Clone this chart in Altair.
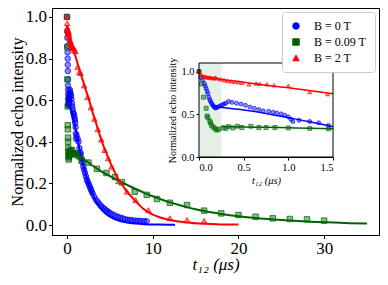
import altair as alt
import pandas as pd

SERIES = ["B = 0 T", "B = 0.09 T", "B = 2 T"]
COLORS = ["#0000ff", "#006400", "#ff0000"]
SHAPES = ["circle", "square", "triangle-up"]

# ---- measured points (t12 in us, normalized echo intensity) ----
blue_t = [0, 0.02, 0.04, 0.06, 0.07, 0.08, 0.09, 0.10, 0.11, 0.12, 0.13, 0.14, 0.15, 0.16, 0.17,
          0.18, 0.19, 0.20, 0.22, 0.24, 0.26, 0.28, 0.30, 0.33, 0.37, 0.42, 0.47, 0.52, 0.57, 0.62,
          0.67, 0.72, 0.78, 0.83, 0.87, 0.92, 0.96, 1.00, 1.03, 1.05, 1.12, 1.24, 1.34, 1.45,
          1.55, 1.6, 1.7, 1.8, 1.9, 2.0, 2.1, 2.2, 2.3, 2.4, 2.5, 2.6, 2.7, 2.8, 2.9, 3.0, 3.2,
          3.4, 3.6, 3.8, 4.0, 4.2, 4.4, 4.6, 4.8, 5.0, 5.3, 5.6, 5.9, 6.2, 6.5, 6.8, 7.1, 7.4,
          7.7, 8.0, 8.3, 8.6, 9.0, 9.3]
blue_y = [1.0, 0.93, 0.90, 0.86, 0.83, 0.80, 0.77, 0.74, 0.70, 0.67, 0.65, 0.63, 0.61, 0.60, 0.585,
          0.575, 0.575, 0.58, 0.59, 0.60, 0.61, 0.62, 0.63, 0.65, 0.64, 0.63, 0.62, 0.605, 0.585, 0.57,
          0.555, 0.54, 0.535, 0.525, 0.515, 0.505, 0.49, 0.47, 0.44, 0.415, 0.43, 0.415, 0.40, 0.37,
          0.35, 0.34, 0.32, 0.30, 0.28, 0.265, 0.25, 0.235, 0.22, 0.21, 0.20, 0.19, 0.18, 0.17, 0.16,
          0.15, 0.135, 0.12, 0.11, 0.10, 0.09, 0.083, 0.077, 0.07, 0.064, 0.058, 0.052, 0.046, 0.04,
          0.036, 0.032, 0.028, 0.025, 0.024, 0.022, 0.021, 0.02, 0.02, 0.019, 0.018]

green_t = [0, 0.03, 0.05, 0.08, 0.09, 0.10, 0.12, 0.13, 0.14, 0.16, 0.18, 0.20, 0.22, 0.27, 0.30,
           0.33, 0.38, 0.43, 0.48, 0.58, 0.67, 0.75, 0.85, 1.0, 1.24, 1.45,
           1.7, 2.5, 3.5, 4.6, 5.6, 6.4, 7.9, 9.3, 10.5, 12, 14, 16, 18, 20, 22, 24, 26, 28, 30]
green_y = [1.0, 0.855, 0.70, 0.57, 0.48, 0.46, 0.42, 0.40, 0.37, 0.35, 0.33, 0.315, 0.325, 0.34, 0.335,
           0.355, 0.34, 0.36, 0.345, 0.36, 0.345, 0.345, 0.345, 0.34, 0.335, 0.33,
           0.31, 0.30, 0.27, 0.25, 0.23, 0.205, 0.16, 0.145, 0.125, 0.107, 0.096, 0.069, 0.056, 0.048,
           0.04, 0.032, 0.029, 0.027, 0.021]

red_t = [0, 0.02, 0.04, 0.06, 0.08, 0.10, 0.12, 0.14, 0.16, 0.18, 0.20, 0.24, 0.28, 0.32, 0.36, 0.40,
         0.44, 0.48, 0.56, 0.64, 0.68, 0.76, 0.84, 1.0, 1.24, 1.44,
         1.6, 2.0, 2.4, 2.8, 3.2, 3.6, 4.0, 4.4, 4.8, 5.2, 6.0, 7.0, 8.0, 9.5, 12, 14, 16]
red_y = [1.0, 0.97, 0.95, 0.94, 0.935, 0.93, 0.93, 0.925, 0.92, 0.93, 0.92, 0.91, 0.90, 0.89, 0.885, 0.88,
         0.875, 0.87, 0.85, 0.86, 0.855, 0.85, 0.84, 0.835, 0.76, 0.735,
         0.73, 0.67, 0.615, 0.565, 0.51, 0.46, 0.41, 0.36, 0.32, 0.28, 0.21, 0.16, 0.12, 0.072, 0.033,
         0.025, 0.02]

# ---- fit curves ----
blue_fit_t = [0.2, 0.5, 0.75, 1.0, 1.25, 1.5, 1.75, 2.0, 2.5, 3.0, 3.5, 4.0, 4.5, 5.0, 6.0, 7.0, 8.0,
              9.0, 10.5, 12.6]
blue_fit_y = [0.585, 0.55, 0.51, 0.46, 0.41, 0.355, 0.31, 0.27, 0.20, 0.145, 0.105, 0.075, 0.055, 0.04,
              0.022, 0.012, 0.007, 0.004, 0.002, 0.001]
green_fit_t = [0.25, 0.5, 0.75, 1.0, 1.25, 1.5, 2.0, 3.0, 4.0, 5.0, 6.0, 7.0, 8.0, 9.0, 10.0, 11.0, 12.0,
               13.0, 14.0, 15.0, 17.0, 19.0, 21.0, 23.0, 25.0, 27.0, 29.0, 31.0, 33.0, 35.0]
green_fit_y = [0.357, 0.352, 0.347, 0.342, 0.336, 0.33, 0.315, 0.285, 0.258, 0.235, 0.213, 0.193, 0.173,
               0.155, 0.138, 0.123, 0.109, 0.097, 0.086, 0.076, 0.06, 0.047, 0.037, 0.03, 0.024, 0.019,
               0.015, 0.012, 0.009, 0.007]
red_fit_t = [0.0, 0.1, 0.25, 0.5, 0.75, 1.0, 1.25, 1.5, 2.0, 2.5, 3.0, 3.5, 4.0, 4.5, 5.0, 5.5, 6.0, 6.5,
             7.0, 8.0, 9.0, 10.0, 11.0, 12.0, 14.0, 16.0, 18.0, 20.0]
red_fit_y = [0.96, 0.935, 0.91, 0.875, 0.84, 0.81, 0.775, 0.74, 0.675, 0.61, 0.54, 0.475, 0.41, 0.355,
             0.305, 0.26, 0.22, 0.19, 0.16, 0.115, 0.075, 0.05, 0.035, 0.024, 0.012, 0.006, 0.003, 0.002]

pts = pd.concat([
    pd.DataFrame({"t": blue_t, "y": blue_y, "B": SERIES[0]}),
    pd.DataFrame({"t": green_t, "y": green_y, "B": SERIES[1]}),
    pd.DataFrame({"t": red_t, "y": red_y, "B": SERIES[2]}),
], ignore_index=True)
fits = pd.concat([
    pd.DataFrame({"t": blue_fit_t, "y": blue_fit_y, "B": SERIES[0]}),
    pd.DataFrame({"t": green_fit_t, "y": green_fit_y, "B": SERIES[1]}),
    pd.DataFrame({"t": red_fit_t, "y": red_fit_y, "B": SERIES[2]}),
], ignore_index=True)
pts_in = pts[pts.t <= 1.5]
fits_in = fits[fits.t <= 1.5]

FONT = "Liberation Serif"
W, H = 327, 227

# ---------------- main panel ----------------
mx = alt.X("t:Q", scale=alt.Scale(domain=[-1.75, 36.4], nice=False, zero=False),
           axis=alt.Axis(values=[0, 10, 20, 30], format="d", title="t₁₂ (μs)",
                         titleFontStyle="italic", titlePadding=0, labelPadding=2))
my = alt.Y("y:Q", scale=alt.Scale(domain=[-0.048, 1.043], nice=False, zero=False),
           axis=alt.Axis(values=[0, 0.2, 0.4, 0.6, 0.8, 1.0], format=".1f",
                         title="Normalized echo intensity", titlePadding=0, labelPadding=2,
                         titleFontSize=16))

cscale = alt.Scale(domain=SERIES, range=COLORS)
leg = alt.Legend(title=None)
main_pts = alt.Chart(pts).mark_point(filled=True, size=30, fillOpacity=0.45, strokeOpacity=0.75,
                                     strokeWidth=1).encode(
    x=mx, y=my,
    fill=alt.Fill("B:N", scale=cscale, legend=leg),
    stroke=alt.Stroke("B:N", scale=cscale, legend=leg),
    shape=alt.Shape("B:N", scale=alt.Scale(domain=SERIES, range=SHAPES), legend=leg),
)
main_lines = [
    alt.Chart(fits).transform_filter(alt.datum.B == s).mark_line(
        color=c, strokeWidth=2, interpolate="monotone").encode(x=mx, y=my)
    for s, c in zip(SERIES, COLORS)
]
main = alt.layer(main_pts, *main_lines)

# ---------------- inset ----------------
ix_scale = alt.Scale(domain=[0, 1.5], range=[147, 281], nice=False, zero=False)
iy_scale = alt.Scale(domain=[0, 1.1], range=[149, 55], nice=False, zero=False)
ix_axis = alt.Axis(orient="bottom", offset=-78, values=[0, 0.5, 1.0, 1.5], format=".1f",
                   title="t₁₂ (μs)", titleFontStyle="italic", labelFontSize=10.5, titleFontSize=10.5,
                   tickSize=3, labelPadding=2, titlePadding=3)
iy_axis = alt.Axis(orient="left", offset=-147, values=[0, 0.5, 1.0], format=".1f",
                   title="Normalized echo intensity", labelFontSize=10.5, titleFontSize=10,
                   tickSize=3, labelPadding=2, titlePadding=3)

box = pd.DataFrame({"t": [0.0], "t2": [1.5], "y": [0.0], "y2": [1.1]})
shade = pd.DataFrame({"t": [0.0], "t2": [0.25], "y": [0.0], "y2": [1.1]})

def ienc(ch):
    return ch.encode(x=alt.X("t:Q", scale=ix_scale, axis=ix_axis),
                     y=alt.Y("y:Q", scale=iy_scale, axis=iy_axis))

inset_bg = ienc(alt.Chart(box).mark_rect(fill="white")).encode(x2="t2:Q", y2="y2:Q")
inset_shade = ienc(alt.Chart(shade).mark_rect(fill="#006400", opacity=0.1)).encode(x2="t2:Q", y2="y2:Q")
inset_lines = [
    ienc(alt.Chart(fits_in).transform_filter(alt.datum.B == s).mark_line(
        color=c, strokeWidth=1.5, interpolate="monotone"))
    for s, c in zip(SERIES, COLORS)
]
inset_pts = [
    ienc(alt.Chart(pts_in).transform_filter(alt.datum.B == s).mark_point(
        shape=sh, filled=True, size=16, fill=c, stroke=c, fillOpacity=0.45, strokeOpacity=0.8,
        strokeWidth=0.8))
    for s, c, sh in zip(SERIES, COLORS, SHAPES)
]
inset_border = ienc(alt.Chart(box).mark_rect(fillOpacity=0, stroke="black", strokeWidth=1)).encode(
    x2="t2:Q", y2="y2:Q")
inset = alt.layer(inset_bg, inset_shade, *inset_pts, *inset_lines, inset_border)

chart = alt.layer(main, inset).resolve_scale(x="independent", y="independent").properties(
    width=W, height=H,
    autosize=alt.AutoSizeParams(type="none"),
    padding={"left": 44, "top": 0, "right": 1, "bottom": 42},
).configure_view(stroke="black", strokeWidth=1).configure_axis(
    grid=False, domainColor="black", tickColor="black", labelColor="black", titleColor="black",
    labelFont=FONT, titleFont=FONT, labelFontSize=17, titleFontSize=17, titleFontWeight="normal",
    tickSize=3.5,
).configure_legend(
    orient="top-right", offset=4, padding=8, strokeColor="#cccccc", fillColor="white",
    cornerRadius=3, labelFont=FONT, labelFontSize=12, labelColor="black", symbolSize=42,
    rowPadding=4, symbolStrokeWidth=1, labelOffset=12,
)

chart.save("out.html", embed_options={"renderer": "svg", "actions": False})
